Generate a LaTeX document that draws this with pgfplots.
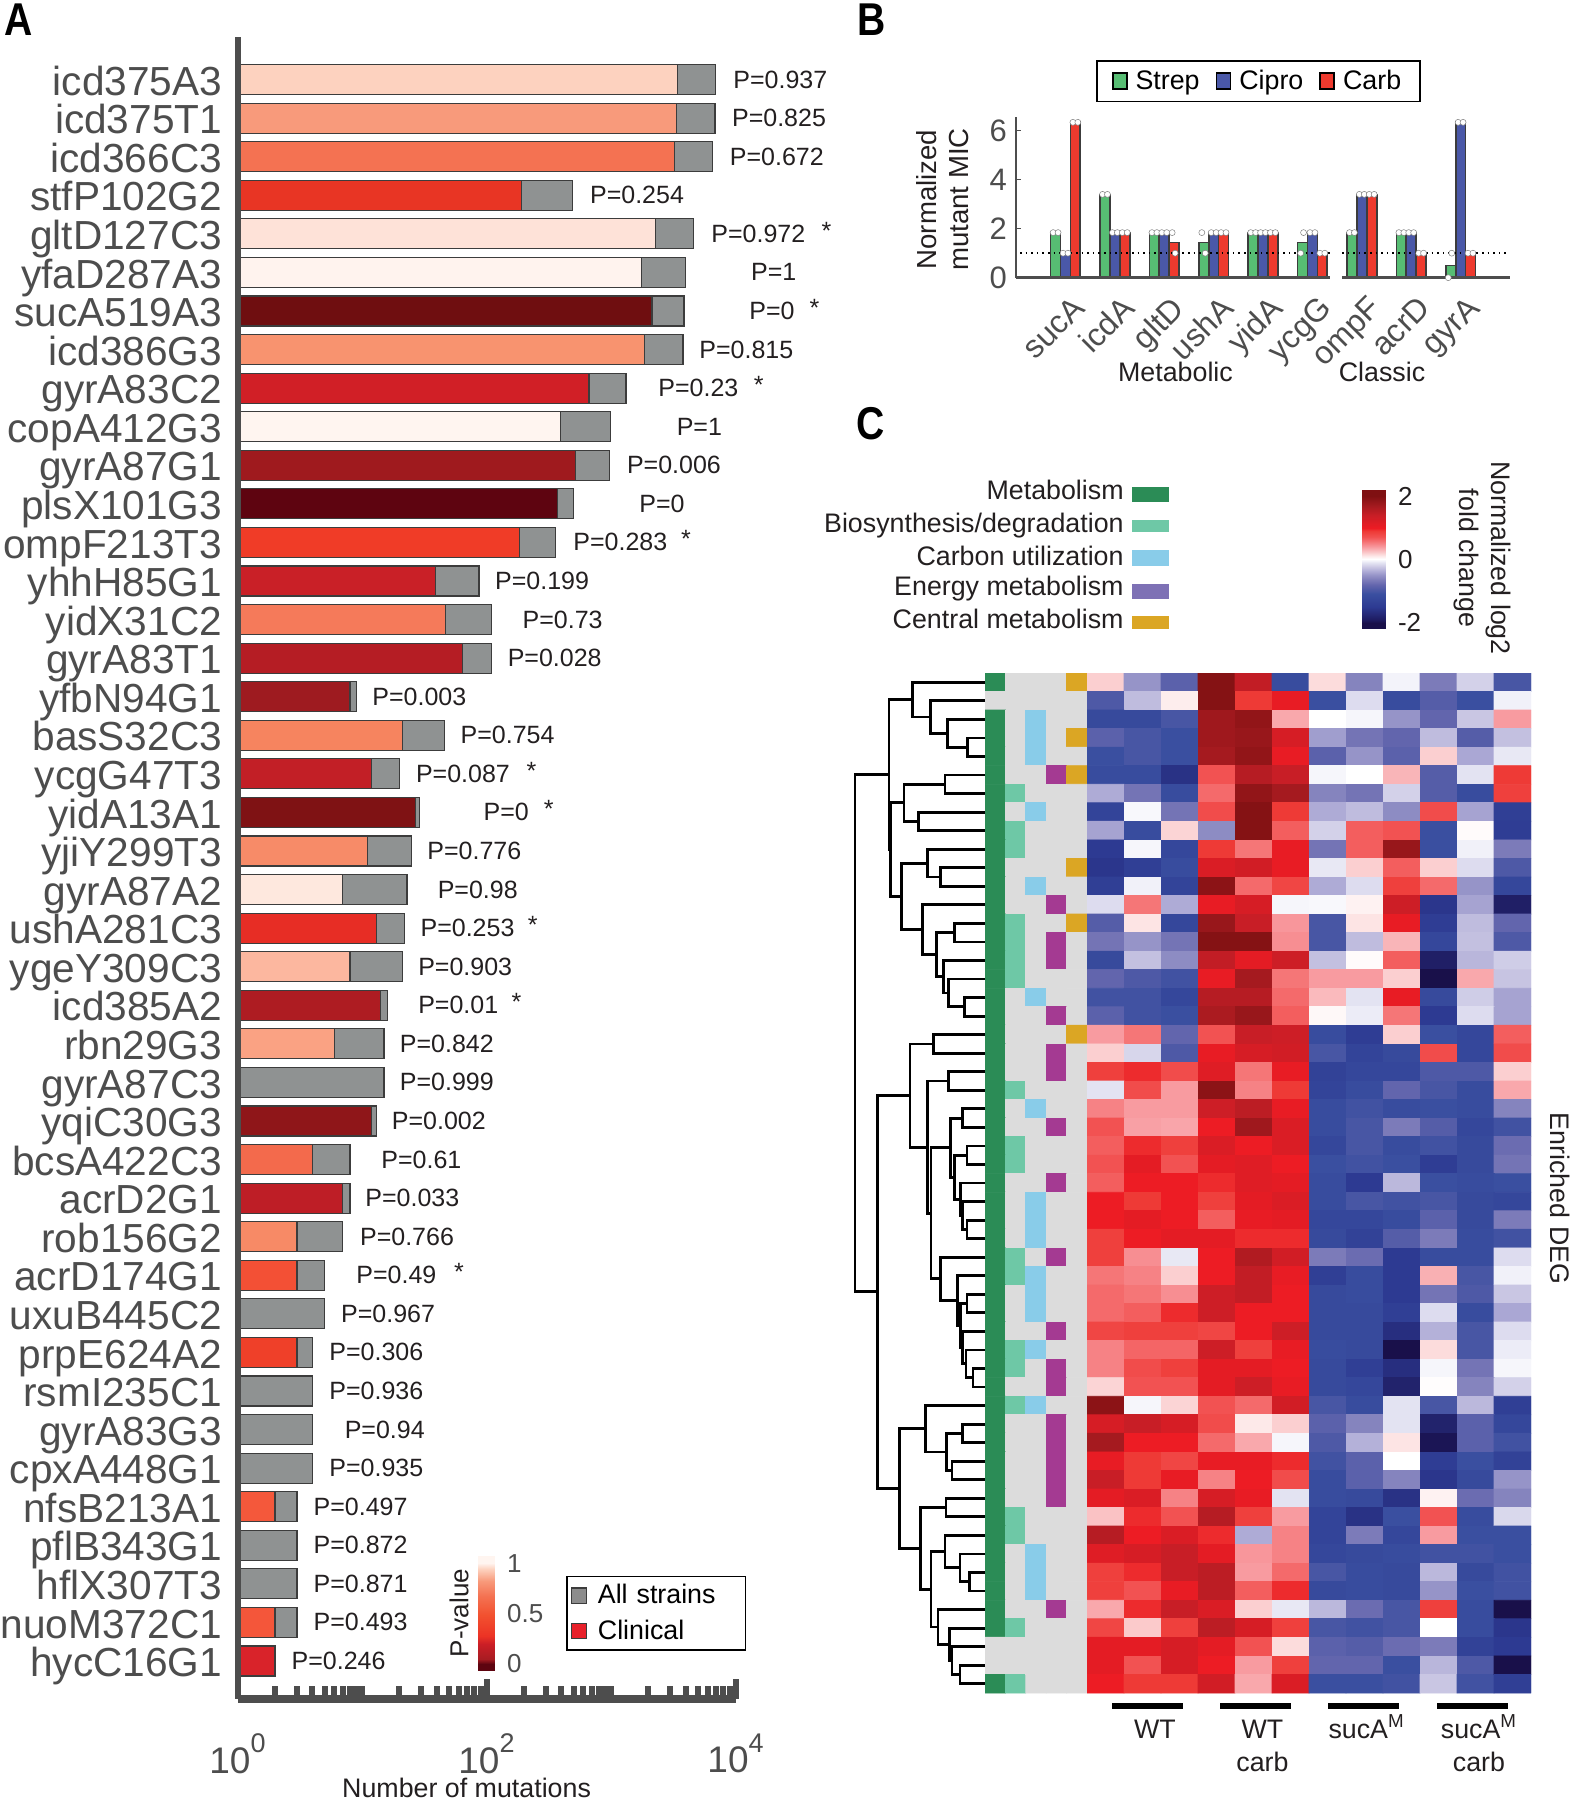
\documentclass[border=0pt]{standalone}
\usepackage{fontspec}
\setmainfont{Liberation Sans}
\usepackage{pgfplots}
\pgfplotsset{compat=1.18}
\definecolor{tcol}{HTML}{231F20}
\definecolor{gcol}{HTML}{4D4D4D}
\definecolor{bgray}{HTML}{8F9292}
\definecolor{bline}{HTML}{3C3C3C}
\definecolor{cS}{HTML}{57BD73}
\definecolor{cC}{HTML}{4A58A8}
\definecolor{cR}{HTML}{EE3A2E}
\definecolor{cL}{HTML}{E8202A}
\newcommand{\tf}{\fontsize{13.4}{16}\selectfont}
\pgfplotsset{
 colormap={heat}{HTML(0)=(19104A) HTML(25)=(1E1B60) HTML(125)=(2D3A92) HTML(225)=(3A4FA0) HTML(262)=(4E59A6) HTML(300)=(6265AD) HTML(337)=(7C7BB9) HTML(375)=(9694C8) HTML(405)=(AEABD6) HTML(437)=(C9C6E3) HTML(470)=(E3E3F2) HTML(487)=(F3F3FA) HTML(500)=(FFFFFF) HTML(525)=(FDE9E9) HTML(550)=(FBCFD0) HTML(600)=(F89BA0) HTML(637)=(F57678) HTML(675)=(F25252) HTML(725)=(EE3A36) HTML(750)=(ED1C24) HTML(850)=(C81E26) HTML(925)=(A51A1F) HTML(1000)=(7F1012)},
 colormap={ann}{HTML(0)=(DCDCDC) HTML(1)=(2B8C56) HTML(2)=(6EC8A6) HTML(3)=(89CCE9) HTML(4)=(A43A92) HTML(5)=(DBA624)},
 colormap={pval}{HTML(0)=(5E0410) HTML(50)=(A81C22) HTML(200)=(CB1E26) HTML(280)=(EC3325) HTML(490)=(F2512F) HTML(670)=(F47252) HTML(820)=(F89A7B) HTML(940)=(FDD2BF) HTML(1000)=(FFF5F0)},
}
\newcommand{\cb}[3]{\definecolor{r#2}{HTML}{#3}\addplot[xbar,bar width=15pt,bar shift=0pt,draw=bline,line width=0.6pt,fill=r#2,forget plot] coordinates {(#1,#2)};}
\begin{document}
\begin{tikzpicture}
\useasboundingbox (0,0) rectangle (786pt,900pt);
%% Panel A
\begin{axis}[at={(118.75pt,50.5pt)},anchor=south west,scale only axis,width=249pt,height=831pt,
 xmode=log,xmin=1,xmax=10000,ymin=0.015,ymax=43.105,clip=false,axis on top,
 axis x line=bottom,axis y line=left,
 x axis line style={-,line width=4pt,color=gcol},
 y axis line style={-,line width=3pt,color=gcol},
 xtick={1,100,10000},xticklabels={10\raisebox{0.55em}{\fontsize{13.5}{14}\selectfont 0},10\raisebox{0.55em}{\fontsize{13.5}{14}\selectfont 2},10\raisebox{0.55em}{\fontsize{13.5}{14}\selectfont 4}},
 minor xtick={2,3,4,5,6,7,8,9,10,20,30,40,50,60,70,80,90,200,300,400,500,600,700,800,900,1000,2000,3000,4000,5000,6000,7000,8000,9000},
 tick align=inside,major tick length=10pt,minor tick length=6.25pt,
 x tick style={line width=3pt,color=gcol},
 xticklabel style={font=\fontsize{18.5}{20}\selectfont,text=gcol,yshift=-14pt},
 ytick={1,...,42},
 yticklabels={hycC16G1,nuoM372C1,hflX307T3,pflB343G1,nfsB213A1,cpxA448G1,gyrA83G3,rsmI235C1,prpE624A2,uxuB445C2,acrD174G1,rob156G2,acrD2G1,bcsA422C3,yqiC30G3,gyrA87C3,rbn29G3,icd385A2,ygeY309C3,ushA281C3,gyrA87A2,yjiY299T3,yidA13A1,ycgG47T3,basS32C3,yfbN94G1,gyrA83T1,yidX31C2,yhhH85G1,ompF213T3,plsX101G3,gyrA87G1,copA412G3,gyrA83C2,icd386G3,sucA519A3,yfaD287A3,gltD127C3,stfP102G2,icd366C3,icd375T1,icd375A3},
 y tick style={draw=none},
 yticklabel style={font=\fontsize{20.3}{22}\selectfont,text=gcol,xshift=-4.2pt,yshift=-3.3pt,text height=13pt,text depth=4pt,inner ysep=0pt},
 xlabel={Number of mutations},
 xlabel style={font=\tf,text=tcol,at={(axis description cs:0.46,0)},anchor=base,yshift=-49.3pt},
 legend style={at={(rel axis cs:0.6596,0.0741)},anchor=north west,draw=black,line width=0.8pt,font=\tf,inner sep=1.85pt,row sep=2.6pt,cells={anchor=west},text width=70pt},
]
\addplot[xbar,bar width=15pt,bar shift=0pt,draw=bline,line width=0.6pt,fill=bgray,
 legend image code/.code={\draw[fill=gray!90,draw=bline,line width=0.6pt] (0pt,-3.8pt) rectangle (7.5pt,3.8pt);\path (11pt,0pt);}]
 coordinates {(6900,42)(6846,41)(6560,40)(490,39)(4625,38)(3972,37)(3857,36)(3786,35)(1320,34)(996,33)(967,32)(499,31)(359,30)(87,29)(110,28)(110,27)(9,26)(46,25)(20,24)(29,23)(25,22)(23,21)(22,20)(21,19)(16,18)(15,17)(15,16)(13,15)(8,14)(8,13)(7,12)(5,11)(5,10)(4,9)(4,8)(4,7)(4,6)(3,5)(3,4)(3,3)(3,2)(2,1)};
\addlegendentry{All strains}
\addlegendimage{legend image code/.code={\draw[fill=cL,draw=bline,line width=0.6pt] (0pt,-3.8pt) rectangle (7.5pt,3.8pt);\path (11pt,0pt);}}
\addlegendentry{Clinical}
\cb{3420}{42}{FDD2BF}\cb{3352}{41}{F89A7B}\cb{3252}{40}{F47252}\cb{190}{39}{E83524}\cb{2270}{38}{FEE2D8}\cb{1749}{37}{FFF3EE}
\cb{2134}{36}{6F0E10}\cb{1855}{35}{F8936F}\cb{666}{34}{D11F26}\cb{392}{33}{FFF5F0}\cb{520}{32}{9F1A1E}\cb{373}{31}{5E0410}
\cb{183}{30}{F03C27}\cb{39}{29}{C92027}\cb{47}{28}{F57A5A}\cb{64}{27}{B51D24}\cb{8}{26}{9E1B20}\cb{21}{25}{F6845F}
\cb{12}{24}{C21F26}\cb{27}{23}{7F1214}\cb{11}{22}{F78B68}\cb{7}{21}{FEE8DE}\cb{13}{20}{E72D25}\cb{8}{19}{FCB79F}
\cb{14}{18}{AE1C22}\cb{6}{17}{FAA283}\cb{12}{15}{8F1619}\cb{4}{14}{F36A4C}\cb{7}{13}{BE1E26}\cb{3}{12}{F78A66}
\cb{3}{11}{F35035}\cb{3}{9}{EF4029}\cb{2}{5}{F4583B}\cb{2}{2}{F4563A}\cb{2}{1}{D9232A}
\end{axis}
%% P-value colorbar
\begin{axis}[at={(238.75pt,64.65pt)},anchor=south west,scale only axis,width=8.25pt,height=57.35pt,
 xmin=0,xmax=1,ymin=-0.066,ymax=1.07,axis line style={draw=none},tick style={draw=none},xtick=\empty,
 ytick={0,0.5,1},yticklabels={0,0.5,1},yticklabel pos=right,
 yticklabel style={font=\fontsize{13}{14}\selectfont,text=gcol,xshift=3pt},
 colormap name=pval,point meta min=0,point meta max=1]
\addplot[surf,shader=interp,mesh/cols=2,point meta=explicit] coordinates {(0,-0.066)[0](1,-0.066)[0] (0,0)[0](1,0)[0] (0,0.05)[0.05](1,0.05)[0.05] (0,0.2)[0.2](1,0.2)[0.2] (0,0.28)[0.28](1,0.28)[0.28] (0,0.49)[0.49](1,0.49)[0.49] (0,0.67)[0.67](1,0.67)[0.67] (0,0.82)[0.82](1,0.82)[0.82] (0,0.94)[0.94](1,0.94)[0.94] (0,1)[1](1,1)[1] (0,1.07)[1](1,1.07)[1]};
\end{axis}
%% Panel B
\begin{axis}[at={(508pt,761.15pt)},anchor=south west,scale only axis,width=247.5pt,height=80.5pt,
 xmin=-1.002,xmax=9.02,ymin=0,ymax=6.57,clip=false,
 axis x line*=bottom,axis y line=left,
 x axis line style={draw=none},
 y axis line style={-,line width=1pt,color=gcol},
 xtick={0,...,8},xticklabels={sucA,icdA,gltD,ushA,yidA,ycgG,ompF,acrD,gyrA},
 x tick style={draw=none},
 xticklabel style={font=\fontsize{16}{17}\selectfont,text=gcol,rotate=45,anchor=north east,xshift=-0.6pt,yshift=-4.2pt},
 ytick={0,2,4,6},y tick style={color=gcol,line width=0.8pt},tick align=inside,major tick length=2.5pt,
 yticklabel style={font=\fontsize{15.5}{16}\selectfont,text=gcol,xshift=-1pt},
 /pgf/number format/assume math mode=true,
 ylabel={Normalized\\mutant MIC},
 ylabel style={font=\fontsize{13.8}{16}\selectfont,text=tcol,align=center,at={(axis description cs:-0.148,0.485)},anchor=center},
 legend style={at={(rel axis cs:0.1616,1.352)},anchor=north west,draw=black,line width=0.8pt,font=\tf,legend columns=3,inner xsep=7.5pt,inner ysep=2.6pt,/tikz/every even column/.append style={column sep=6pt},cells={anchor=west}},
]
\addplot[ybar,bar width=4.95pt,bar shift=-4.95pt,draw=bline,line width=0.85pt,fill=cS,legend image code/.code={\draw[fill=cS,draw=black,line width=0.9pt] (0pt,-4pt) rectangle (7pt,4pt);\path (9pt,0pt);}]
 coordinates {(0,1.84)(1,3.4)(2,1.84)(3,1.43)(4,1.84)(5,1.43)(6,1.84)(7,1.84)(8,0.5)};
\addlegendentry{Strep}
\addplot[ybar,bar width=4.95pt,bar shift=0pt,draw=bline,line width=0.85pt,fill=cC,legend image code/.code={\draw[fill=cC,draw=black,line width=0.9pt] (0pt,-4pt) rectangle (7pt,4pt);\path (9pt,0pt);}]
 coordinates {(0,0.98)(1,1.84)(2,1.84)(3,1.84)(4,1.84)(5,1.84)(6,3.4)(7,1.84)(8,6.34)};
\addlegendentry{Cipro}
\addplot[ybar,bar width=4.95pt,bar shift=4.95pt,draw=bline,line width=0.85pt,fill=cR,legend image code/.code={\draw[fill=cR,draw=black,line width=0.9pt] (0pt,-4pt) rectangle (7pt,4pt);\path (9pt,0pt);}]
 coordinates {(0,6.34)(1,1.84)(2,1.43)(3,1.84)(4,1.84)(5,1)(6,3.4)(7,1)(8,1)};
\addlegendentry{Carb}
\addplot[sharp plot,no marks,color=gcol,line width=1.3pt,unbounded coords=jump,forget plot] coordinates {(-1,0)(5.35,0)(nan,nan)(5.6,0)(9,0)};
\addplot[sharp plot,no marks,color=black,line width=0.8pt,dotted,unbounded coords=jump,forget plot] coordinates {(-0.92,1)(5.35,1)(nan,nan)(5.6,1)(9,1)};
\addplot[only marks,mark=*,mark size=1.5pt,mark options={fill=white,draw=gray,line width=0.25pt},forget plot] coordinates {
(-0.25,1.84)(-0.15,1.84)(-0.05,1)(0.05,1)(0.15,6.34)(0.25,6.34)
(0.75,3.4)(0.85,3.4)(0.95,1.84)(1.05,1.84)(1.15,1.84)(1.25,1.84)
(1.75,1.84)(1.85,1.84)(1.95,1.84)(2.05,1.84)(2.16,1.84)(2.22,1)
(2.76,1.84)(2.83,1)(2.95,1.84)(3.05,1.84)(3.15,1.84)(3.25,1.84)
(3.75,1.84)(3.85,1.84)(3.95,1.84)(4.05,1.84)(4.15,1.84)(4.25,1.84)
(4.82,1.84)(4.76,1)(4.95,1.84)(5.05,1.84)(5.15,1)(5.25,1)
(5.75,1.84)(5.85,1.84)(5.95,3.4)(6.05,3.4)(6.15,3.4)(6.25,3.4)
(6.75,1.84)(6.85,1.84)(6.95,1.84)(7.05,1.84)(7.15,1)(7.25,1)
(7.82,1)(7.75,0)(7.95,6.34)(8.05,6.34)(8.15,1)(8.25,1)};
\end{axis}
%% Panel C annotation strip
\begin{axis}[at={(492.5pt,53.5pt)},anchor=south west,scale only axis,width=51pt,height=510pt,hide axis,
 xmin=0.5,xmax=5.5,ymin=0.5,ymax=55.5,y dir=reverse,colormap name=ann,point meta min=0,point meta max=5]
\addplot[matrix plot*,mesh/cols=5,point meta=explicit] table[row sep=\\,header=false,x expr={mod(\coordindex,5)+1},y expr={floor((\coordindex+0.5)/5)+1},meta index=0]{
1\\0\\0\\0\\5\\
0\\0\\0\\0\\0\\
1\\0\\3\\0\\0\\
1\\0\\3\\0\\5\\
1\\0\\3\\0\\0\\
1\\0\\0\\4\\5\\
1\\2\\0\\0\\0\\
1\\0\\3\\0\\0\\
1\\2\\0\\0\\0\\
1\\2\\0\\0\\0\\
1\\0\\0\\0\\5\\
1\\0\\3\\0\\0\\
1\\0\\0\\4\\0\\
1\\2\\0\\0\\5\\
1\\2\\0\\4\\0\\
1\\2\\0\\4\\0\\
1\\2\\0\\0\\0\\
1\\0\\3\\0\\0\\
1\\0\\0\\4\\0\\
1\\0\\0\\0\\5\\
1\\0\\0\\4\\0\\
1\\0\\0\\4\\0\\
1\\2\\0\\0\\0\\
1\\0\\3\\0\\0\\
1\\0\\0\\4\\0\\
1\\2\\0\\0\\0\\
1\\2\\0\\0\\0\\
1\\0\\0\\4\\0\\
1\\0\\3\\0\\0\\
1\\0\\3\\0\\0\\
1\\0\\3\\0\\0\\
1\\2\\0\\4\\0\\
1\\2\\3\\0\\0\\
1\\0\\3\\0\\0\\
1\\0\\3\\0\\0\\
1\\0\\0\\4\\0\\
1\\2\\3\\0\\0\\
1\\2\\0\\4\\0\\
1\\0\\0\\4\\0\\
1\\2\\3\\0\\0\\
1\\0\\0\\4\\0\\
1\\0\\0\\4\\0\\
1\\0\\0\\4\\0\\
1\\0\\0\\4\\0\\
1\\0\\0\\4\\0\\
1\\2\\0\\0\\0\\
1\\2\\0\\0\\0\\
1\\0\\3\\0\\0\\
1\\0\\3\\0\\0\\
1\\0\\3\\0\\0\\
1\\0\\0\\4\\0\\
1\\2\\0\\0\\0\\
0\\0\\0\\0\\0\\
0\\0\\0\\0\\0\\
1\\2\\0\\0\\0\\
};
\end{axis}
%% Panel C heat map
\begin{axis}[at={(543.5pt,53.5pt)},anchor=south west,scale only axis,width=222pt,height=510pt,hide axis,
 xmin=0.5,xmax=12.5,ymin=0.5,ymax=55.5,y dir=reverse,colormap name=heat,point meta min=-2,point meta max=2]
\addplot[matrix plot*,mesh/cols=12,point meta=explicit] table[row sep=\\,header=false,x expr={mod(\coordindex,12)+1},y expr={floor((\coordindex+0.5)/12)+1},meta index=0]{
0.2\\-0.5\\-0.85\\1.95\\1.45\\-1.15\\0.15\\-0.6\\-0.05\\-0.65\\-0.2\\-1\\
-0.95\\-0.3\\0.08\\1.95\\0.9\\1.05\\-1.1\\-0.15\\-1.15\\-0.9\\-1.1\\-0.06\\
-1.2\\-1.2\\-1\\1.75\\1.85\\0.35\\0\\-0.04\\-0.5\\-0.8\\-0.25\\0.4\\
-0.85\\-1\\-1.1\\1.75\\1.8\\1.25\\-0.45\\-0.7\\-0.8\\-0.3\\-0.9\\-0.28\\
-1.1\\-1\\-1.1\\1.7\\1.85\\1.05\\-0.85\\-0.5\\-0.85\\0.2\\-0.4\\-0.1\\
-1.15\\-1.15\\-1.6\\0.7\\1.55\\1.4\\-0.04\\0\\0.3\\-0.9\\-0.12\\0.9\\
-0.38\\-0.7\\-1.15\\0.6\\1.85\\1.7\\-0.6\\-0.7\\-0.2\\-0.9\\-1.15\\0.85\\
-1.3\\-0.03\\-0.7\\0.75\\1.95\\0.9\\-0.38\\-0.3\\-0.55\\0.75\\-0.42\\-1.4\\
-0.42\\-1.15\\0.18\\-0.55\\1.95\\0.65\\-0.2\\0.65\\0.7\\-1.1\\0.02\\-1.45\\
-1.5\\-0.04\\-1.25\\0.9\\0.55\\1.05\\-0.7\\0.65\\1.8\\-1.1\\-0.06\\-0.65\\
-1.55\\-1.4\\-1.15\\1.2\\1.3\\1.05\\-0.1\\0.2\\0.65\\0.2\\-0.15\\-0.95\\
-1.4\\-0.06\\-1.3\\1.9\\0.6\\0.8\\-0.38\\-0.15\\0.85\\0.6\\-0.5\\-1.25\\
-0.15\\0.55\\-0.38\\1.05\\1.25\\-0.04\\-0.03\\0.06\\1.35\\-1.55\\-0.42\\-1.85\\
-0.9\\0.12\\-1.25\\1.8\\1.4\\0.42\\-1\\0.12\\1.05\\-1.45\\-0.3\\-0.8\\
-0.7\\-0.5\\-0.7\\1.95\\1.95\\0.45\\-1\\-0.3\\0.3\\-1.25\\-0.28\\-0.95\\
-1.2\\-0.28\\-0.55\\1.45\\1.1\\1.35\\-0.28\\0.02\\0.65\\-1.85\\-0.33\\-0.22\\
-0.8\\-0.95\\-1.05\\1.05\\1.7\\0.55\\0.4\\0.4\\0.2\\-2\\0.35\\-0.26\\
-1.05\\-1.05\\-1.25\\1.55\\1.55\\0.6\\0.28\\-0.12\\1.05\\-1.2\\-0.22\\-0.42\\
-0.85\\-1.05\\-1.1\\1.65\\1.8\\0.65\\0.03\\-0.08\\0.55\\-1.5\\-0.15\\-0.42\\
0.4\\0.55\\-0.8\\0.7\\1.4\\1.35\\-1.15\\-1.45\\0.2\\-1.1\\-1.25\\0.65\\
0.2\\-0.18\\-0.95\\1.05\\1.25\\1.3\\-1\\-1.3\\-1.2\\0.75\\-1.25\\0.75\\
0.85\\0.95\\0.75\\1.15\\0.55\\1.05\\-1.35\\-1.25\\-1.25\\-0.95\\-0.95\\0.2\\
-0.12\\0.75\\0.4\\1.9\\0.5\\0.9\\-1.3\\-1.15\\-0.8\\-1\\-1.15\\0.35\\
0.5\\0.4\\0.4\\1.35\\1.5\\1.05\\-1.15\\-1.05\\-1.15\\-1.1\\-1.15\\-0.6\\
0.7\\0.38\\0.36\\1\\1.75\\1.2\\-1.15\\-1\\-0.65\\-0.9\\-1.25\\-1.05\\
0.65\\0.95\\0.85\\1.2\\1\\1.2\\-1.25\\-1\\-1.15\\-1.05\\-1.2\\-0.75\\
0.7\\1.1\\0.7\\1.1\\1.15\\1\\-1.1\\-1.05\\-1.1\\-1.45\\-1.2\\-0.7\\
0.65\\1\\1\\0.95\\1.15\\1.1\\-1.15\\-1.5\\-0.32\\-1.1\\-1.15\\-1.1\\
1\\0.9\\1\\0.85\\1.1\\1.2\\-1.15\\-1\\-1.05\\-1\\-1.2\\-1.25\\
1\\1.1\\1\\0.65\\1.05\\1.1\\-1.25\\-1.25\\-1.15\\-0.85\\-1.2\\-0.65\\
0.85\\1\\1.1\\1.1\\0.95\\0.95\\-1.2\\-1.35\\-0.9\\-0.65\\-1.15\\-1.05\\
0.85\\0.45\\-0.1\\1\\1.6\\1.3\\-0.65\\-0.75\\-1.5\\-1.15\\-1.15\\-0.15\\
0.55\\0.5\\0.2\\1\\1.45\\1.05\\-1.4\\-1.15\\-1.5\\0.32\\-1\\-0.06\\
0.6\\0.55\\0.45\\1.35\\1.45\\1\\-1.2\\-1.15\\-1.5\\-0.7\\-0.95\\-0.25\\
0.6\\0.65\\0.95\\1.35\\1\\1\\-1.2\\-1.2\\-1.4\\-0.15\\-1.15\\-0.4\\
0.8\\0.85\\0.85\\0.8\\1\\1.35\\-1.2\\-1.2\\-1.65\\-0.35\\-1\\-0.15\\
0.5\\0.62\\0.62\\1.35\\0.85\\1.05\\-1.15\\-1.2\\-2\\0.15\\-1\\-0.08\\
0.5\\0.75\\0.85\\1.1\\1.1\\1\\-1.2\\-1.4\\-1.65\\-0.04\\-0.7\\-0.04\\
0.18\\0.7\\0.7\\1.1\\1.35\\1.05\\-1.2\\-1.25\\-1.8\\0.01\\-0.6\\-0.2\\
1.9\\-0.04\\0.18\\0.7\\0.6\\1.3\\-1\\-1.15\\-0.12\\-1\\-0.32\\-1.4\\
1.25\\1.4\\1.25\\0.75\\0.1\\0.2\\-0.85\\-0.6\\-0.12\\-1.8\\-0.85\\-1.25\\
1.7\\1\\1\\0.6\\0.35\\-0.04\\-0.95\\-0.35\\0.12\\-1.95\\-0.85\\-1.05\\
1.05\\0.9\\0.8\\1.05\\1.05\\0.95\\-1.05\\-0.85\\0\\-1.45\\-1.1\\-1.35\\
1.4\\0.9\\1.05\\0.5\\1\\0.75\\-1.15\\-0.85\\-0.6\\-1.55\\-1.2\\-0.5\\
1.1\\1.2\\0.5\\1.25\\1.05\\-0.12\\-1.15\\-1.2\\-1.6\\0.06\\-0.75\\-0.6\\
0.25\\0.95\\0.7\\1.55\\0.85\\0.4\\-1.3\\-1.6\\-1.1\\0.7\\-1.15\\-0.17\\
1.55\\1\\1.2\\0.95\\-0.38\\0.5\\-1.3\\-0.65\\-1.25\\0.4\\-1.1\\-1.1\\
1.15\\1.25\\1.4\\1.1\\0.42\\0.5\\-1.25\\-1.2\\-1.15\\-1.05\\-1.05\\-1.1\\
0.85\\0.95\\1.4\\1.5\\0.4\\0.6\\-1\\-1.15\\-1.2\\-0.32\\-1.2\\-1.05\\
0.85\\0.7\\1.05\\1.5\\0.65\\0.95\\-1.2\\-1.15\\-1.2\\-0.5\\-1.1\\-1.05\\
0.35\\0.95\\1.4\\1.2\\0.2\\-0.1\\-0.32\\-0.75\\-1\\0.85\\-1.15\\-2\\
0.8\\0.22\\0.85\\1.5\\1.25\\0.85\\-1\\-1.05\\-1\\0\\-1.15\\-1.55\\
1.1\\1.1\\1.25\\1.1\\0.7\\0.15\\-0.85\\-0.9\\-0.75\\-0.65\\-1.35\\-1.5\\
1.1\\0.7\\1.25\\1\\0.4\\0.85\\-0.8\\-0.8\\-1.1\\-0.33\\-0.95\\-2\\
1\\0.9\\0.9\\1.3\\0.35\\1.2\\-1.1\\-1.1\\-1.05\\-0.25\\-1.05\\-1.4\\
};
\end{axis}
%% Heat colorbar
\begin{axis}[at={(680.75pt,585.5pt)},anchor=south west,scale only axis,width=11.75pt,height=69.5pt,
 xmin=0,xmax=1,ymin=-2.2,ymax=2.2,axis line style={draw=none},tick style={draw=none},xtick=\empty,
 ytick={-2,0,2},yticklabels={-2,0,2},yticklabel pos=right,
 yticklabel style={font=\fontsize{13}{14}\selectfont,text=tcol,xshift=3pt},
 colormap name=heat,point meta min=-2,point meta max=2]
\addplot[surf,shader=interp,mesh/cols=2,point meta=explicit] coordinates {(0,-2.2)[-2](1,-2.2)[-2] (0,-2)[-2](1,-2)[-2] (0,-1.5)[-1.5](1,-1.5)[-1.5] (0,-1.1)[-1.1](1,-1.1)[-1.1] (0,-0.8)[-0.8](1,-0.8)[-0.8] (0,-0.5)[-0.5](1,-0.5)[-0.5] (0,-0.25)[-0.25](1,-0.25)[-0.25] (0,0)[0](1,0)[0] (0,0.2)[0.2](1,0.2)[0.2] (0,0.4)[0.4](1,0.4)[0.4] (0,0.7)[0.7](1,0.7)[0.7] (0,1)[1](1,1)[1] (0,1.4)[1.4](1,1.4)[1.4] (0,1.7)[1.7](1,1.7)[1.7] (0,2)[2](1,2)[2] (0,2.2)[2](1,2.2)[2]};
\end{axis}
%% Dendrogram
\begin{axis}[at={(420pt,53.5pt)},anchor=south west,scale only axis,width=72.6pt,height=510pt,hide axis,
 xmin=0,xmax=311,ymin=0.5,ymax=55.5,y dir=reverse,clip=false]
\addplot[black,line width=1.4pt,no marks,unbounded coords=jump,line join=miter] coordinates {
(311,4)(273,4)(273,5)(311,5)(nan,nan)
(311,3)(230,3)(230,4.5)(273,4.5)(nan,nan)
(311,2)(193,2)(193,3.75)(230,3.75)(nan,nan)
(311,1)(155,1)(155,2.875)(193,2.875)(nan,nan)
(155,1.94)(105,1.94)(105,10.02)(108,10.02)(nan,nan)
(311,6)(225,6)(225,7)(311,7)(nan,nan)
(311,8)(168,8)(168,9)(311,9)(nan,nan)
(225,6.5)(137,6.5)(137,8.5)(168,8.5)(nan,nan)
(311,11)(215,11)(215,12)(311,12)(nan,nan)
(311,10)(188,10)(188,11.5)(215,11.5)(nan,nan)
(311,14)(245,14)(245,15)(311,15)(nan,nan)
(311,18)(267,18)(267,19)(311,19)(nan,nan)
(311,17)(232,17)(232,18.5)(267,18.5)(nan,nan)
(311,16)(222,16)(222,17.75)(232,17.75)(nan,nan)
(245,14.5)(207,14.5)(207,16.875)(222,16.875)(nan,nan)
(311,13)(176,13)(176,15.69)(207,15.69)(nan,nan)
(188,10.75)(132,10.75)(132,14.34)(176,14.34)(nan,nan)
(137,7.5)(108,7.5)(108,12.55)(132,12.55)(nan,nan)
(105,5.98)(32,5.98)(32,33.87)(80,33.87)(nan,nan)
(311,20)(200,20)(200,21)(311,21)(nan,nan)
(311,22)(233,22)(233,23)(311,23)(nan,nan)
(311,24)(263,24)(263,25)(311,25)(nan,nan)
(311,26)(272,26)(272,27)(311,27)(nan,nan)
(311,30)(272,30)(272,31)(311,31)(nan,nan)
(311,29)(262,29)(262,30.5)(272,30.5)(nan,nan)
(311,28)(258,28)(258,29.75)(262,29.75)(nan,nan)
(272,26.5)(245,26.5)(245,28.875)(258,28.875)(nan,nan)
(263,24.5)(237,24.5)(237,27.69)(245,27.69)(nan,nan)
(311,38)(285,38)(285,39)(311,39)(nan,nan)
(311,37)(270,37)(270,38.5)(285,38.5)(nan,nan)
(311,36)(262,36)(262,37.75)(270,37.75)(nan,nan)
(311,34)(272,34)(272,35)(311,35)(nan,nan)
(272,34.5)(258,34.5)(258,36.875)(262,36.875)(nan,nan)
(311,33)(252,33)(252,35.69)(258,35.69)(nan,nan)
(311,32)(216,32)(216,34.34)(252,34.34)(nan,nan)
(237,26.09)(195,26.09)(195,33.17)(216,33.17)(nan,nan)
(233,22.5)(187,22.5)(187,29.63)(195,29.63)(nan,nan)
(200,20.5)(150,20.5)(150,26.07)(187,26.07)(nan,nan)
(311,41)(262,41)(262,42)(311,42)(nan,nan)
(311,43)(240,43)(240,44)(311,44)(nan,nan)
(262,41.5)(228,41.5)(228,43.5)(240,43.5)(nan,nan)
(311,40)(183,40)(183,42.5)(228,42.5)(nan,nan)
(311,45)(227,45)(227,46)(311,46)(nan,nan)
(311,49)(277,49)(277,50)(311,50)(nan,nan)
(311,48)(257,48)(257,49.5)(277,49.5)(nan,nan)
(311,47)(225,47)(225,48.75)(257,48.75)(nan,nan)
(311,54)(257,54)(257,55)(311,55)(nan,nan)
(311,53)(240,53)(240,54.5)(257,54.5)(nan,nan)
(311,52)(235,52)(235,53.75)(240,53.75)(nan,nan)
(311,51)(210,51)(210,52.875)(235,52.875)(nan,nan)
(225,47.875)(195,47.875)(195,51.94)(210,51.94)(nan,nan)
(227,45.5)(172,45.5)(172,49.91)(195,49.91)(nan,nan)
(183,41.25)(127,41.25)(127,47.7)(172,47.7)(nan,nan)
(150,23.28)(80,23.28)(80,44.47)(127,44.47)
};
\end{axis}
%% Canvas for text and strips
\begin{axis}[at={(0pt,0pt)},anchor=south west,scale only axis,width=786pt,height=900pt,hide axis,
 xmin=0,xmax=1572,ymin=0,ymax=1800,y dir=reverse,clip=false]
\newcommand{\pl}[3]{\node[anchor=west,inner sep=0pt,font=\fontsize{12.5}{14}\selectfont,text=tcol] at (axis cs:#1,{79.5+38.57*(#2-1)}) {#3};}
\newcommand{\st}[2]{\node[anchor=center,inner sep=0pt,font=\fontsize{12.5}{14}\selectfont,text=tcol] at (axis cs:#1,{76.5+38.57*(#2-1)}) {*};}
\pl{733}{1}{P=0.937}\pl{731.7}{2}{P=0.825}\pl{729.5}{3}{P=0.672}\pl{589.7}{4}{P=0.254}\pl{711}{5}{P=0.972}\pl{750.7}{6}{P=1}\pl{749}{7}{P=0}\pl{699}{8}{P=0.815}\pl{658}{9}{P=0.23}\pl{676.4}{10}{P=1}\pl{626.6}{11}{P=0.006}\pl{639}{12}{P=0}\pl{573}{13}{P=0.283}\pl{494.8}{14}{P=0.199}\pl{522.3}{15}{P=0.73}\pl{507.4}{16}{P=0.028}\pl{372}{17}{P=0.003}\pl{460.3}{18}{P=0.754}\pl{415.6}{19}{P=0.087}\pl{483.3}{20}{P=0}\pl{427}{21}{P=0.776}\pl{437.4}{22}{P=0.98}\pl{420.2}{23}{P=0.253}\pl{417.9}{24}{P=0.903}\pl{417.9}{25}{P=0.01}\pl{399.5}{26}{P=0.842}\pl{399.5}{27}{P=0.999}\pl{391.5}{28}{P=0.002}\pl{381}{29}{P=0.61}\pl{365}{30}{P=0.033}\pl{359.7}{31}{P=0.766}\pl{356}{32}{P=0.49}\pl{340.8}{33}{P=0.967}\pl{329}{34}{P=0.306}\pl{329}{35}{P=0.936}\pl{344.4}{36}{P=0.94}\pl{329}{37}{P=0.935}\pl{313.3}{38}{P=0.497}\pl{313.3}{39}{P=0.872}\pl{313.3}{40}{P=0.871}\pl{313.3}{41}{P=0.493}\pl{291.3}{42}{P=0.246}
\st{826.6}{5}\st{814.6}{7}\st{758.8}{9}\st{686}{13}\st{531.5}{19}\st{548.7}{20}\st{532.7}{23}\st{516.6}{25}\st{459}{32}
\node[anchor=base west,inner sep=0pt,font=\fontsize{23}{24}\selectfont\bfseries] at (axis cs:4,35) {\scalebox{0.85}[1]{A}};
\node[anchor=base west,inner sep=0pt,font=\fontsize{23}{24}\selectfont\bfseries] at (axis cs:857,35) {\scalebox{0.85}[1]{B}};
\node[anchor=base west,inner sep=0pt,font=\fontsize{23}{24}\selectfont\bfseries] at (axis cs:856,439) {\scalebox{0.85}[1]{C}};
\node[rotate=90,anchor=center,inner sep=0pt,font=\fontsize{13}{14}\selectfont,text=tcol] at (axis cs:459,1613) {P-value};
\node[anchor=base,inner sep=0pt,font=\tf,text=tcol] at (axis cs:1175.5,381) {Metabolic};
\node[anchor=base,inner sep=0pt,font=\tf,text=tcol] at (axis cs:1382,381) {Classic};
\node[anchor=base east,inner sep=0pt,font=\tf,text=tcol] at (axis cs:1124,499) {Metabolism};
\node[anchor=base east,inner sep=0pt,font=\tf,text=tcol] at (axis cs:1124,532) {Biosynthesis/degradation};
\node[anchor=base east,inner sep=0pt,font=\tf,text=tcol] at (axis cs:1124,565) {Carbon utilization};
\node[anchor=base east,inner sep=0pt,font=\tf,text=tcol] at (axis cs:1124,595) {Energy metabolism};
\node[anchor=base east,inner sep=0pt,font=\tf,text=tcol] at (axis cs:1124,628) {Central metabolism};
\fill[color={rgb,255:red,43;green,140;blue,86}] (axis cs:1132,487) rectangle (axis cs:1169,502);
\fill[color={rgb,255:red,110;green,200;blue,166}] (axis cs:1132,520) rectangle (axis cs:1169,532);
\fill[color={rgb,255:red,137;green,204;blue,233}] (axis cs:1132,550) rectangle (axis cs:1169,566);
\fill[color={rgb,255:red,126;green,113;blue,181}] (axis cs:1132,584) rectangle (axis cs:1169,599);
\fill[color={rgb,255:red,219;green,166;blue,36}] (axis cs:1132,616) rectangle (axis cs:1169,629);
\node[rotate=-90,anchor=base,inner sep=0pt,font=\tf,text=tcol] at (axis cs:1491,558) {Normalized log2};
\node[rotate=-90,anchor=base,inner sep=0pt,font=\tf,text=tcol] at (axis cs:1459,558) {fold change};
\node[rotate=-90,anchor=base,inner sep=0pt,font=\tf,text=tcol] at (axis cs:1550,1198.5) {Enriched DEG};
\fill[black] (axis cs:1111.7,1702.7) rectangle (axis cs:1182.7,1709);
\fill[black] (axis cs:1219.5,1702.7) rectangle (axis cs:1291,1709);
\fill[black] (axis cs:1328,1702.7) rectangle (axis cs:1399,1709);
\fill[black] (axis cs:1437,1702.7) rectangle (axis cs:1507.6,1709);
\node[anchor=base,inner sep=0pt,font=\tf,text=tcol] at (axis cs:1155,1738) {WT};
\node[anchor=base,inner sep=0pt,font=\tf,text=tcol] at (axis cs:1262.5,1738) {WT};
\node[anchor=base,inner sep=0pt,font=\tf,text=tcol] at (axis cs:1262.5,1771.7) {carb};
\node[anchor=base,inner sep=0pt,font=\tf,text=tcol] at (axis cs:1366.6,1738) {sucA\textsuperscript{M}};
\node[anchor=base,inner sep=0pt,font=\tf,text=tcol] at (axis cs:1479,1738) {sucA\textsuperscript{M}};
\node[anchor=base,inner sep=0pt,font=\tf,text=tcol] at (axis cs:1479,1771.7) {carb};
\end{axis}
\end{tikzpicture}
\end{document}
